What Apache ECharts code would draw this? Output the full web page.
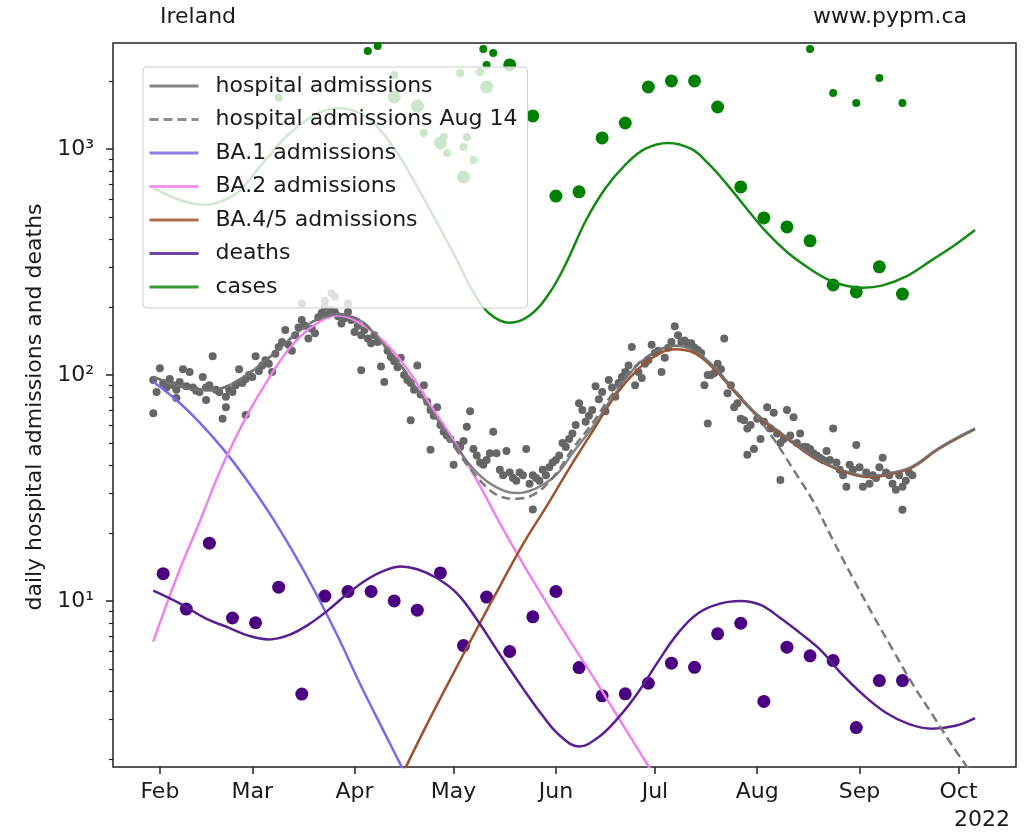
<!DOCTYPE html>
<html><head><meta charset="utf-8">
<script src="https://cdn.jsdelivr.net/npm/echarts@6/dist/echarts.min.js"></script>
<style>html,body{margin:0;padding:0;background:#fff}#c{width:1030px;height:833px}</style>
</head><body><div id="c"></div>
<script>
// ---------- data (all dates are in 2022, written MM-DD) ----------
const monthTicks = ['02-01','03-01','04-01','05-01','06-01','07-01','08-01','09-01','10-01'];
const monthLabels = ['Feb','Mar','Apr','May','Jun','Jul','Aug','Sep','Oct'];
const yMajorTicks = [10, 100, 1000];
const yMajorLabels = ['10\u00b9', '10\u00b2', '10\u00b3'];
const yMinorTicks = [2,3,4,5,6,7,8,9,20,30,40,50,60,70,80,90,200,300,400,500,600,700,800,900,2000];

// model curves
const hospDates = ['01-30','02-05','02-10','02-15','02-20','02-26','03-06','03-14','03-19','03-23','03-27','03-31','04-04','04-08','04-15','04-23',
  '05-01','05-08','05-14','05-20','05-26','06-01','06-06','06-12','06-18','06-25','07-01','07-07','07-13','07-19','07-25','07-31',
  '08-06','08-12','08-18','08-24','08-29','09-04','09-10','09-17','09-25','10-06'];
const hospModel = [98,91,87,85.5,87.5,97,119,151,171,181,186,181,169,146,110,74,
  50,37,31.8,30,31.5,36,45,58.5,79,108,126,134.5,128,108,86,69,
  58.5,50.5,43.5,39.3,37,35.7,36.7,39.4,47.5,58];

const aug14Dates = ['01-30','02-05','02-10','02-15','02-20','02-26','03-06','03-14','03-19','03-23','03-27','03-31','04-04','04-08','04-15','04-23',
  '05-01','05-08','05-14','05-20','05-26','06-01','06-06','06-12','06-18','06-25','07-01','07-07','07-13','07-19','07-25','07-31',
  '08-06','08-12','08-18','08-24','08-30','09-05','09-11','09-17','09-23','09-29','10-05'];
const aug14Model = [98,91,87,85.5,87.5,97,119,151,171,181,186,181,169,146,110,74,
  48.5,35.5,29.5,28.3,30,36.5,47,61,82,109,126,134.5,128,108,86,68,
  52,38,27.5,18.5,12.6,8.7,6.1,4.3,3.15,2.3,1.72];

// BA.1 and BA.2 sampled weekly from 01-30
const variantStart = '01-30';
const ba1Model = [93.3,77.4,61.7,47.3,34.8,24.7,16.8,11.0,6.92,4.19,2.62,1.64];
const ba2Model = [6.6,12.6,22.3,39.8,64.6,96.6,135,167,183,168,140,106,73.5,51.3,34.3,22.1,14.6,9.9,6.76,4.68,3.2,2.19,1.5];

const ba45Dates = ['04-10','04-17','04-24','05-01','05-08','05-15','05-22','05-29','06-05','06-12','06-19','06-25','07-01','07-07','07-13','07-19',
  '07-25','07-31','08-06','08-12','08-18','08-24','08-29','09-04','09-10','09-17','09-25','10-06'];
const ba45Model = [1.15,1.9,3.05,4.8,7.5,11.6,17.8,26,38.5,56,81,103,121,130,125,106,84.5,68,57.5,49.7,43,38.9,36.6,35.3,36.3,39,47,57.5];

const deathsDates = ['01-30','02-07','02-15','02-22','02-28','03-06','03-12','03-18','03-24','03-30','04-05','04-10','04-15','04-20','04-26',
  '05-02','05-08','05-15','05-22','05-28','06-02','06-08','06-14','06-20','06-26','07-02','07-08','07-14','07-21','07-27',
  '08-02','08-08','08-14','08-20','08-26','09-02','09-09','09-16','09-23','09-30','10-06'];
const deathsModel = [11.1,9.75,8.35,7.6,7.0,6.75,7.05,7.85,9.1,10.8,12.5,13.6,14.2,13.8,12.6,
  10.8,8.3,5.8,4.1,3.1,2.55,2.27,2.5,3.05,3.95,5.4,7.2,8.8,9.75,10.0,
  9.6,8.4,7.2,6.1,4.85,3.85,3.2,2.85,2.72,2.8,3.03];

const casesDates = ['01-30','02-05','02-10','02-15','02-20','02-25','03-04','03-12','03-19','03-23','03-27','03-31','04-04','04-08','04-14',
  '04-20','04-26','05-02','05-07','05-12','05-18','05-24','05-30','06-04','06-10','06-16','06-22','06-28','07-05','07-12','07-17',
  '07-23','07-29','08-04','08-10','08-16','08-22','08-27','09-02','09-08','09-15','09-23','09-29','10-06'];
const casesModel = [672,610,578,565,590,650,860,1160,1390,1480,1518,1490,1400,1250,960,
  679,471,323,232,186,170,183,230,310,480,670,850,1000,1063,1000,867,
  692,540,425,350,301,266,250,243,249,272,323,368,438];

// daily hospital admissions from 01-30
const hospStart = '01-30';
const hospDaily = [
95,84,107,92,88,96,90, 86,93,106,89,103,88,85, 84,98,88,90,121,86,84, 64,80,86,84,90,106,92,
96,100,98,121,104,110,116, 112,103,124,133,140,158,136, 128,150,162,175,165,145,160, 153,180,188,200,185,194,190,
182,169,178,190,175,155,165, 150,158,145,138,150,140,109, 93,128,120,115,108,119,100, 95,92,86,110,82,90,76,
70,66,72,60,56,54,52, 40,49,48,51,59,69,47, 44,41,40,42,45,56,45, 38,36,46,37,35,34,37,
36,47,33,36,35,34,38, 36,39,41,42,44,50,48, 52,55,60,75,70,62,66, 70,89,78,84,69,95,88,
80,92,98,103,110,133,90, 103,97,112,116,136,125,128, 103,119,132,140,164,150,140, 142,138,138,132,129,125,90,
100,100,102,112,106,145,83, 90,72,75,64,63,58,60, 47,64,52,62,72,58,68, 55,50,52,70,54,65,50,
55,48,48,47,45,44,43, 42,46,42,58,41,38,36, 32,40,38,49,39,32,37, 33,36,35,39,43,37,36,
33,31,36,32,34,37,36];
const hospExtraDates = ['01-30','02-06','02-15','02-21','02-27','03-16','03-23','03-25','03-26','03-30',
  '04-03','04-18','04-24','05-25','07-17','07-29','08-08','09-14'];
const hospExtraVals = [67.7,79,77.5,72,66.5,207,213,230,222,207,105,63,46.6,25.4,61,44.3,34.3,25.3];

// weekly deaths from 02-02
const deathsStart = '02-02';
const deathsWeekly = [13.2,9.2,18.0,8.4,8.0,11.5,3.87,10.5,11.0,11.0,10.0,9.1,13.3,6.34,10.4,5.97,8.5,11.0,5.07,3.80,3.88,4.32,5.30,5.08,7.15,7.96,3.59,6.24,5.71,5.44,2.75,4.44,4.44];

// weekly cases from 04-13 (earlier weeks lie above the plotted range)
const casesStart = '04-13';
const casesWeekly = [1698,1549,1063,752,1880,2355,1400,619,646,1119,1303,1880,2000,2000,1534,679,495,452,392,250,233,301,228];
const casesOtherDates = ['03-09','04-05','04-08','04-13','04-22','04-28','04-29','05-03','05-04','05-05',
  '05-07','05-09','05-10','05-11','05-13','08-17','08-24','08-31','09-07','09-14'];
const casesOtherVals = [1683,2716,2857,2124,1177,1130,960,2167,1021,1130,894,2193,2767,2355,2660,2768,1770,1598,2061,1598];

// ---------- helpers ----------
const T0 = Date.parse('2022-02-01'), DAY = 86400000;
const day = s => Math.round((Date.parse('2022-' + s) - T0) / DAY);
const pairs = (dates, vals) => dates.map((d, i) => [day(d), vals[i]]);
const stepped = (start, vals, step) => vals.map((v, i) => [day(start) + i * step, v]);
const monthDays = monthTicks.map(day);

const FONT = 'DejaVu Sans';
const TXT = '#1a1a1a';

const lineSeries = (name, data, color, extra) => Object.assign({
  name, type: 'line', data, symbol: 'none', showSymbol: false,
  smooth: 0.4, clip: true,
  lineStyle: { color, width: 2.5 }, itemStyle: { color }, z: 3
}, extra || {});

const chart = echarts.init(document.getElementById('c'));
chart.setOption({
  animation: false,
  backgroundColor: '#fff',
  grid: { left: 113, top: 43, right: 14, bottom: 66, show: true, borderColor: '#222', borderWidth: 1.5, backgroundColor: 'transparent' },
  xAxis: {
    type: 'value', min: -14.2, max: 259.4,
    axisLine: { show: false, onZero: false }, splitLine: { show: false },
    axisTick: { show: true, customValues: monthDays, length: 7, lineStyle: { color: '#222', width: 1.5 } },
    axisLabel: { customValues: monthDays, formatter: v => monthLabels[monthDays.indexOf(Math.round(v))] || '',
      fontFamily: FONT, fontSize: 22, color: TXT, margin: 14 }
  },
  yAxis: [
    { type: 'log', logBase: 10, min: 1.84, max: 2944, position: 'left',
      axisLine: { show: false, onZero: false }, splitLine: { show: false }, minorTick: { show: false },
      axisTick: { show: true, customValues: yMajorTicks, length: 7, lineStyle: { color: '#222', width: 1.5 } },
      axisLabel: { customValues: yMajorTicks, formatter: v => yMajorLabels[yMajorTicks.indexOf(Math.round(v))] || '',
        fontFamily: FONT, fontSize: 22, color: TXT, margin: 19 } },
    { type: 'log', logBase: 10, min: 1.84, max: 2944, position: 'left',
      axisLine: { show: false, onZero: false }, splitLine: { show: false },
      axisTick: { show: true, customValues: yMinorTicks, length: 4, lineStyle: { color: '#222', width: 1.2 } },
      axisLabel: { show: false } }
  ],
  legend: {
    orient: 'vertical', left: 143, top: 67,
    data: ['hospital admissions','hospital admissions Aug 14','BA.1 admissions','BA.2 admissions','BA.4/5 admissions','deaths','cases'],
    itemWidth: 49, itemHeight: 14, itemGap: 11.5,
    padding: [8, 10, 10, 5],
    itemStyle: { opacity: 0 },
    lineStyle: { width: 3, opacity: 0.85 },
    backgroundColor: 'rgba(255,255,255,0.8)', borderColor: '#cccccc', borderWidth: 1, borderRadius: 4,
    textStyle: { fontFamily: FONT, fontSize: 22, color: TXT, lineHeight: 22, padding: [0, 0, 0, 12] },
    selectedMode: false
  },
  graphic: [
    { type: 'text', x: 160, y: 17, style: { text: 'Ireland', font: '22px "DejaVu Sans"', fill: TXT, align: 'left', verticalAlign: 'middle' } },
    { type: 'text', x: 967, y: 17, style: { text: 'www.pypm.ca', font: '22px "DejaVu Sans"', fill: TXT, align: 'right', verticalAlign: 'middle' } },
    { type: 'text', x: 1010, y: 820, style: { text: '2022', font: '22px "DejaVu Sans"', fill: TXT, align: 'right', verticalAlign: 'middle' } },
    { type: 'text', x: 35, y: 407, rotation: Math.PI / 2, style: { text: 'daily hospital admissions and deaths', font: '22px "DejaVu Sans"', fill: TXT, align: 'center', verticalAlign: 'middle' } }
  ],
  series: [
    { name: 'hospital data', type: 'scatter', data: stepped(hospStart, hospDaily, 1), symbolSize: 8, itemStyle: { color: '#666666', opacity: 1 }, z: 2, silent: true },
    { name: 'hospital data extra', type: 'scatter', data: pairs(hospExtraDates, hospExtraVals), symbolSize: 8, itemStyle: { color: '#666666', opacity: 1 }, z: 2, silent: true },
    { name: 'cases weekly', type: 'scatter', data: stepped(casesStart, casesWeekly, 7), symbolSize: 13, itemStyle: { color: '#008000', opacity: 1 }, z: 2, silent: true },
    { name: 'cases other', type: 'scatter', data: pairs(casesOtherDates, casesOtherVals), symbolSize: 8, itemStyle: { color: '#008000', opacity: 1 }, z: 2, silent: true },
    { name: 'deaths weekly', type: 'scatter', data: stepped(deathsStart, deathsWeekly, 7), symbolSize: 13, itemStyle: { color: '#4b0082', opacity: 1 }, z: 2, silent: true },
    lineSeries('BA.1 admissions', stepped(variantStart, ba1Model, 7), '#7b68ee'),
    lineSeries('BA.2 admissions', stepped(variantStart, ba2Model, 7), '#ee82ee'),
    lineSeries('BA.4/5 admissions', pairs(ba45Dates, ba45Model), '#a0522d'),
    lineSeries('deaths', pairs(deathsDates, deathsModel), '#5b1f94'),
    lineSeries('cases', pairs(casesDates, casesModel), '#148a14'),
    lineSeries('hospital admissions Aug 14', pairs(aug14Dates, aug14Model), '#7a7a7a', { lineStyle: { color: '#7a7a7a', width: 2.5, type: [9, 5] } }),
    lineSeries('hospital admissions', pairs(hospDates, hospModel), '#707070', { lineStyle: { color: '#707070', width: 2.5, opacity: 0.85 } })
  ]
});
</script></body></html>
